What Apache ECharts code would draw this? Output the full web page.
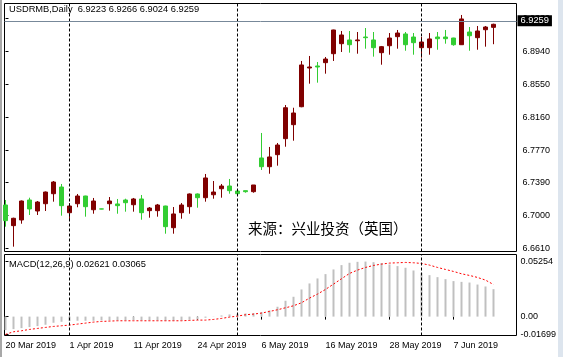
<!DOCTYPE html>
<html><head><meta charset="utf-8">
<script src="https://cdn.jsdelivr.net/npm/echarts@6/dist/echarts.min.js"></script>
<style>html,body{margin:0;padding:0;background:#fff}#c{width:563px;height:357px}</style>
</head><body><div id="c"></div>
<script>
const dates = ["20 Mar 2019","21 Mar 2019","22 Mar 2019","25 Mar 2019","26 Mar 2019","27 Mar 2019","28 Mar 2019","29 Mar 2019",
"1 Apr 2019","2 Apr 2019","3 Apr 2019","4 Apr 2019","5 Apr 2019","8 Apr 2019","9 Apr 2019","10 Apr 2019","11 Apr 2019","12 Apr 2019","15 Apr 2019","16 Apr 2019","17 Apr 2019","18 Apr 2019","22 Apr 2019","23 Apr 2019","24 Apr 2019","25 Apr 2019","26 Apr 2019","29 Apr 2019","30 Apr 2019",
"1 May 2019","2 May 2019","3 May 2019","6 May 2019","7 May 2019","8 May 2019","9 May 2019","10 May 2019","13 May 2019","14 May 2019","15 May 2019","16 May 2019","17 May 2019","20 May 2019","21 May 2019","22 May 2019","23 May 2019","24 May 2019","27 May 2019","28 May 2019","29 May 2019","30 May 2019","31 May 2019",
"3 Jun 2019","4 Jun 2019","5 Jun 2019","6 Jun 2019","7 Jun 2019","10 Jun 2019","11 Jun 2019","12 Jun 2019","13 Jun 2019","14 Jun 2019"];
const opens = [6.7126,6.6882,6.6949,6.7185,6.7055,6.7141,6.7259,6.7338,6.7035,6.7141,6.7232,6.7070,6.7080,6.7141,6.7138,6.7185,6.7129,6.7197,6.7059,6.7059,6.7114,6.6858,6.7035,6.7106,6.7256,6.7212,6.7247,6.7318,6.7350,6.7291,6.7295,6.7283,6.7681,6.7578,6.7720,6.7909,6.8074,6.8286,6.8743,6.8767,6.8806,6.8912,6.9030,6.9074,6.9065,6.9109,6.9074,6.8924,6.9006,6.9113,6.9145,6.9109,6.8983,6.8983,6.9109,6.9109,6.9097,6.9018,6.9168,6.9101,6.9195,6.9223];
const highs = [6.7185,6.6976,6.7179,6.7212,6.7173,6.7285,6.7409,6.7374,6.7149,6.7256,6.7235,6.7209,6.7082,6.7220,6.7197,6.7200,6.7209,6.7244,6.7102,6.7138,6.7117,6.7102,6.7149,6.7262,6.7262,6.7492,6.7409,6.7374,6.7433,6.7297,6.7295,6.7362,6.7976,6.7811,6.7858,6.8306,6.8274,6.8826,6.8885,6.8814,6.8873,6.9195,6.9180,6.9180,6.9168,6.9215,6.9168,6.9003,6.9156,6.9192,6.9168,6.9156,6.9109,6.9156,6.9168,6.9192,6.9100,6.9369,6.9227,6.9239,6.9239,6.9266];
const lows = [6.6870,6.6634,6.6905,6.7008,6.7008,6.7055,6.7165,6.7000,6.6952,6.7099,6.6988,6.7023,6.7076,6.7059,6.7023,6.7047,6.7047,6.6952,6.6976,6.6988,6.6787,6.6787,6.6964,6.7023,6.7094,6.7165,6.7200,6.7212,6.7259,6.7256,6.7271,6.7271,6.7539,6.7495,6.7590,6.7814,6.7885,6.8280,6.8558,6.8570,6.8676,6.8826,6.8932,6.8924,6.8912,6.8971,6.8877,6.8782,6.8900,6.8971,6.8947,6.8900,6.8865,6.8900,6.8959,6.9030,6.9006,6.9015,6.8947,6.8959,6.8995,6.9024];
const closes = [6.6941,6.6969,6.7173,6.7079,6.7161,6.7279,6.7397,6.7118,6.7114,6.7232,6.7106,6.7173,6.7078,6.7173,6.7118,6.7153,6.7197,6.7035,6.7090,6.7126,6.6870,6.7020,6.7126,6.7256,6.7212,6.7445,6.7279,6.7350,6.7295,6.7259,6.7283,6.7362,6.7578,6.7693,6.7834,6.8274,6.8212,6.8779,6.8755,6.8755,6.8849,6.9192,6.9133,6.9018,6.9074,6.9101,6.8983,6.8995,6.9097,6.9156,6.9018,6.9042,6.9050,6.9086,6.9089,6.9089,6.9018,6.9322,6.9124,6.9180,6.9227,6.9259];
const macdMain = [-0.01289,-0.01194,-0.01098,-0.01003,-0.00907,-0.00780,-0.00589,-0.00493,-0.00430,-0.00398,-0.00398,-0.00398,-0.00366,-0.00366,-0.00366,-0.00366,-0.00334,-0.00366,-0.00366,-0.00366,-0.00398,-0.00398,-0.00366,-0.00302,-0.00239,-0.00111,-0.00016,0.00111,0.00207,0.00271,0.00302,0.00334,0.00430,0.00589,0.00939,0.01512,0.01894,0.02594,0.03167,0.03645,0.04058,0.04504,0.04918,0.05141,0.05230,0.05254,0.05200,0.05108,0.04981,0.04822,0.04664,0.04404,0.04181,0.03958,0.03768,0.03577,0.03390,0.03317,0.03254,0.03063,0.02876,0.02621];
const macdSignal = [-0.01699,-0.01448,-0.01353,-0.01225,-0.01130,-0.01034,-0.00939,-0.00875,-0.00812,-0.00716,-0.00621,-0.00525,-0.00462,-0.00430,-0.00398,-0.00398,-0.00398,-0.00398,-0.00398,-0.00398,-0.00398,-0.00398,-0.00398,-0.00366,-0.00334,-0.00334,-0.00271,-0.00175,-0.00048,0.00048,0.00175,0.00239,0.00334,0.00493,0.00653,0.00844,0.01034,0.01321,0.01767,0.02149,0.02594,0.03103,0.03613,0.04122,0.04440,0.04695,0.04886,0.05013,0.05109,0.05141,0.05173,0.05141,0.05077,0.04918,0.04695,0.04504,0.04313,0.04090,0.03931,0.03740,0.03485,0.03065];
const priceTicks = [6.6610,6.7000,6.7390,6.7770,6.8160,6.8550,6.8940,6.9330];
const macdTicks = [0.05254,0,-0.01699];
const dateTickIdx = [0,8,16,24,32,40,48,56];
const separators = [8,29,52];
const symbolName = "USDRMB,Daily";
const macdName = "MACD(12,26,9)";
const sourceText = "来源：兴业投资（英国）";

const FONT = '"Liberation Sans", Arial, sans-serif';
const n = closes.length;
const last = n - 1;
const chart = echarts.init(document.getElementById('c'));
const sepLines = separators.map(x => ({xAxis: x, lineStyle: {type: [3, 2], color: '#000', width: 1}, label: {show: false}}));

chart.setOption({
  animation: false,
  backgroundColor: '#fff',
  grid: [
    {left: 4.5, right: 46.5, top: 3.5, height: 248, show: true, borderColor: '#000', borderWidth: 1, backgroundColor: 'transparent'},
    {left: 4.5, right: 46.5, top: 254.5, height: 81, show: true, borderColor: '#000', borderWidth: 1, backgroundColor: 'transparent'}
  ],
  title: [
    {text: symbolName + '  ' + [opens[last], highs[last], lows[last], closes[last]].map(v => v.toFixed(4)).join(' '),
     left: 9, top: 4.5, padding: 0, textStyle: {fontSize: 9.3, fontWeight: 'normal', color: '#000', fontFamily: FONT, lineHeight: 10}},
    {text: macdName + ' ' + macdMain[last].toFixed(5) + ' ' + macdSignal[last].toFixed(5),
     left: 9, top: 259, padding: 0, textStyle: {fontSize: 9.3, fontWeight: 'normal', color: '#000', fontFamily: FONT, lineHeight: 10}},
    {text: sourceText, left: 248, top: 220, padding: 0,
     textStyle: {fontSize: 14.5, fontWeight: 'normal', color: '#000', fontFamily: '"Noto Sans CJK SC", sans-serif', lineHeight: 16}}
  ],
  xAxis: [
    {type: 'value', gridIndex: 0, min: -0.125, max: 63.875, show: false, splitLine: {show: false}},
    {type: 'value', gridIndex: 1, min: -0.125, max: 63.875, splitLine: {show: false},
     axisLine: {show: false},
     axisTick: {show: true, customValues: dateTickIdx, length: 3, lineStyle: {color: '#000'}},
     axisLabel: {customValues: dateTickIdx, formatter: v => dates[Math.round(v)] || '', align: 'left', fontSize: 9, color: '#000', fontFamily: FONT, margin: 6}}
  ],
  yAxis: [
    {type: 'value', gridIndex: 0, position: 'right', min: 6.65769, max: 6.95045, scale: true, splitLine: {show: false},
     axisLine: {show: false},
     axisTick: {show: true, customValues: priceTicks, length: 3, lineStyle: {color: '#000'}},
     axisLabel: {customValues: priceTicks, formatter: v => v.toFixed(4), fontSize: 9, color: '#000', fontFamily: FONT, margin: 6}},
    {type: 'value', gridIndex: 1, position: 'right', min: -0.01805, max: 0.05931, splitLine: {show: false},
     axisLine: {show: false},
     axisTick: {show: true, customValues: macdTicks, length: 3, lineStyle: {color: '#000'}},
     axisLabel: {customValues: macdTicks, formatter: v => (Math.abs(v) < 1e-9 ? '0.00' : v.toFixed(5)), fontSize: 9, color: '#000', fontFamily: FONT, margin: 4}}
  ],
  graphic: [
    {type: 'rect', shape: {x: 0, y: 0, width: 2, height: 357}, style: {fill: '#a8a8a8'}, silent: true},
    {type: 'rect', shape: {x: 558, y: 0, width: 5, height: 357}, style: {fill: '#dde5ee'}, silent: true}
  ],
  series: [
    {type: 'candlestick', xAxisIndex: 0, yAxisIndex: 0, barWidth: 4,
     data: closes.map((c, i) => [i, opens[i], c, lows[i], highs[i]]),
     itemStyle: {color: '#800000', color0: '#32CD32', borderColor: '#800000', borderColor0: '#32CD32', borderWidth: 1},
     markLine: {silent: true, symbol: ['none', 'none'], animation: false,
       data: sepLines.concat([{yAxis: closes[last], lineStyle: {type: 'solid', color: '#778899', width: 1},
         label: {show: true, position: 'end', distance: 1, formatter: () => closes[last].toFixed(4),
           backgroundColor: '#000', color: '#fff', fontSize: 9.3, fontFamily: FONT, padding: [1, 3, 0, 3], lineHeight: 10}}])}},
    {type: 'bar', xAxisIndex: 1, yAxisIndex: 1, barWidth: 2,
     data: macdMain.map((v, i) => [i, v]), itemStyle: {color: '#C0C0C0'},
     markLine: {silent: true, symbol: ['none', 'none'], animation: false, data: sepLines}},
    {type: 'line', xAxisIndex: 1, yAxisIndex: 1, symbol: 'none',
     data: macdSignal.map((v, i) => [i, v]), lineStyle: {color: '#FF0000', width: 1, type: [2, 2]}}
  ]
});
</script>
</body></html>
